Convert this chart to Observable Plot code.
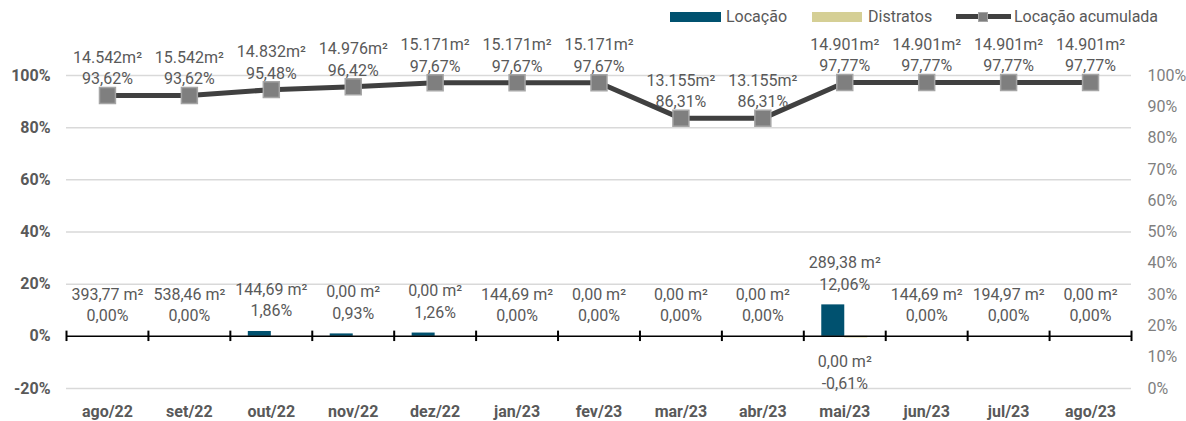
<!DOCTYPE html>
<html>
<head>
<meta charset="utf-8">
<script src="https://cdn.jsdelivr.net/npm/d3@7"></script>
<script src="https://cdn.jsdelivr.net/npm/@observablehq/plot@0.6"></script>
<style>
  body { margin: 0; background: #fff; font-family: Roboto, "Open Sans", sans-serif; }
  #legend { position: relative; height: 30px; width: 1186px; color: #595959; font-size: 16px; }
  .sw { position: absolute; top: 12px; height: 10px; }
  .lt { position: absolute; top: 7px; line-height: 20px; }
  #chart svg { display: block; }
</style>
</head>
<body>
<div id="legend">
  <div class="sw" style="left:670px;width:51px;background:#00516f"></div>
  <div class="lt" style="left:726px">Locação</div>
  <div class="sw" style="left:812px;width:50px;background:#d5cf95"></div>
  <div class="lt" style="left:868px">Distratos</div>
  <div class="sw" style="left:956px;width:55px;height:5px;top:14px;background:#404040"></div>
  <div class="sw" style="left:978px;width:8px;height:8px;top:12px;background:#7f7f7f;border:1px solid #a5a5a5"></div>
  <div class="lt" style="left:1014px">Locação acumulada</div>
</div>
<div id="chart"></div>
<script>
const months = ["ago/22","set/22","out/22","nov/22","dez/22","jan/23","fev/23","mar/23","abr/23","mai/23","jun/23","jul/23","ago/23"];
const locacao = [0, 0, 1.86, 0.93, 1.26, 0, 0, 0, 0, 12.06, 0, 0, 0];
const locacaoM2 = ["393,77","538,46","144,69","0,00","0,00","144,69","0,00","0,00","0,00","289,38","144,69","194,97","0,00"];
const distratos = [0, 0, 0, 0, 0, 0, 0, 0, 0, -0.61, 0, 0, 0];
const distratosM2 = [null, null, null, null, null, null, null, null, null, "0,00", null, null, null];
const acumulada = [93.62, 93.62, 95.48, 96.42, 97.67, 97.67, 97.67, 86.31, 86.31, 97.77, 97.77, 97.77, 97.77];
const acumuladaM2 = ["14.542","15.542","14.832","14.976","15.171","15.171","15.171","13.155","13.155","14.901","14.901","14.901","14.901"];
const leftTicks = [-20, 0, 20, 40, 60, 80, 100];
const rightTicks = [0, 10, 20, 30, 40, 50, 60, 70, 80, 90, 100];

const pct = v => v.toFixed(2).replace(".", ",") + "%";
// right axis (0..100) mapped onto left axis (-20..100)
const toLeft = v => -20 + v * 1.2;

const rows = months.map((m, i) => ({
  month: m,
  loc: locacao[i], locM2: locacaoM2[i],
  dis: distratos[i], disM2: distratosM2[i],
  acc: acumulada[i], accM2: acumuladaM2[i]
}));

const W = 1186, H = 391, ML = 66, MR = 55;
const bw = (W - ML - MR) / months.length;
const barW = 23;
const gray = "#595959";

const chart = Plot.plot({
  width: W, height: H,
  marginTop: 45, marginBottom: 33, marginLeft: ML, marginRight: MR,
  style: { fontFamily: "Roboto, 'Open Sans', sans-serif", fontSize: "16px", color: gray, background: "#fff" },
  x: { type: "band", domain: months, padding: 0, round: false },
  y: { domain: [-20, 100] },
  marks: [
    Plot.ruleY(leftTicks.filter(t => t !== 0), { stroke: "#d9d9d9", strokeWidth: 1.5 }),
    Plot.axisY({ ticks: leftTicks, tickFormat: d => d + "%", tickSize: 0, tickPadding: 16, fontWeight: "bold", fill: gray, fontSize: 16, label: null }),
    Plot.axisY({ anchor: "right", ticks: rightTicks.map(toLeft), tickFormat: d => Math.round((d + 20) / 1.2) + "%", tickSize: 0, tickPadding: 16, fill: "#7f7f7f", fontSize: 16, label: null }),
    Plot.axisX({ tickSize: 0, tickPadding: 17, fontWeight: "bold", fill: gray, fontSize: 16, label: null }),
    Plot.barY(rows, { x: "month", y: "loc", fill: "#00516f", insetLeft: bw / 2 - barW, insetRight: bw / 2 }),
    Plot.barY(rows, { x: "month", y: "dis", fill: "#d5cf95", insetLeft: bw / 2, insetRight: bw / 2 - barW }),
    Plot.ruleY([0], { stroke: "#000", strokeWidth: 1.5 }),
    Plot.ruleX(rows, { x: "month", y1: -2, y2: 2, dx: -bw / 2, stroke: "#000", strokeWidth: 2 }),
    Plot.ruleX(rows.slice(-1), { x: "month", y1: -2, y2: 2, dx: bw / 2, stroke: "#000", strokeWidth: 2 }),
    Plot.text(rows, { x: "month", y: d => Math.max(d.loc, 0), text: d => `${d.locM2} m²\n${pct(d.loc)}`, lineAnchor: "bottom", dy: -15, lineHeight: 1.35, fill: gray, fontSize: 16 }),
    Plot.text(rows.filter(d => d.disM2 !== null), { x: "month", y: d => Math.min(d.dis, 0), text: d => `${d.disM2} m²\n${pct(d.dis)}`, lineAnchor: "top", dy: 14, lineHeight: 1.35, fill: gray, fontSize: 16 }),
    Plot.line(rows, { x: "month", y: d => toLeft(d.acc), stroke: "#404040", strokeWidth: 5 }),
    Plot.dot(rows, { x: "month", y: d => toLeft(d.acc), symbol: "square", r: 9, fill: "#7f7f7f", stroke: "#a5a5a5", strokeWidth: 1.5 }),
    Plot.text(rows, { x: "month", y: d => toLeft(d.acc), text: d => `${d.accM2}m²\n${pct(d.acc)}`, lineAnchor: "bottom", dy: -11, lineHeight: 1.35, fill: gray, fontSize: 16 })
  ]
});
document.getElementById("chart").appendChild(chart);
</script>
</body>
</html>
